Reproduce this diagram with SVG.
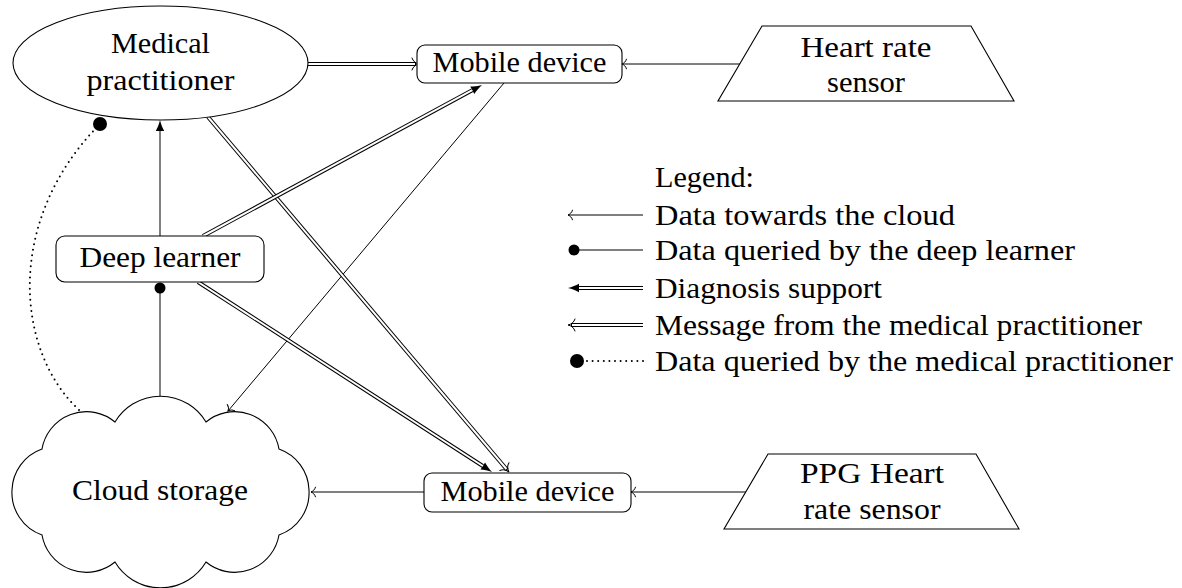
<svg xmlns="http://www.w3.org/2000/svg" width="1182" height="588" viewBox="0 0 1182 588">
  <style>
    .lbl { font-family: "Liberation Serif", "Times New Roman", serif; font-size: 30px; fill: #000; }
    .mid { text-anchor: middle; }
    .shape { fill: #fff; stroke: #000; stroke-width: 1.1; }
    .thin { fill: none; stroke: #000; stroke-width: 1; }
    .dbl-out { fill: none; stroke: #000; stroke-width: 4; stroke-linecap: butt; }
    .dbl-in { fill: none; stroke: #fff; stroke-width: 2; stroke-linecap: butt; }
    .dots { fill: none; stroke: #000; stroke-width: 2; stroke-linecap: round; stroke-dasharray: 0 5.6; }
    .dot { fill: #000; }
  </style>
  <defs>
    <!-- thin open tip -->
    <marker id="to" markerUnits="userSpaceOnUse" viewBox="-8 -8 12 16" markerWidth="12" markerHeight="16" refX="0" refY="0" orient="auto" overflow="visible">
      <path d="M-4.5,-4.8 C-3.8,-2.2 -1.6,-0.6 0,0 C-1.6,0.6 -3.8,2.2 -4.5,4.8" fill="none" stroke="#000" stroke-width="1" stroke-linecap="round"/>
    </marker>
    <!-- filled tip, base at the path end -->
    <marker id="latex" markerUnits="userSpaceOnUse" viewBox="-2 -6 16 12" markerWidth="16" markerHeight="12" refX="0" refY="0" orient="auto" overflow="visible">
      <path d="M11,0 C7,-0.9 3,-2.6 0,-4.2 L0,4.2 C3,2.6 7,0.9 11,0 Z" fill="#000"/>
    </marker>
    <!-- open tip for double lines -->
    <marker id="implies" markerUnits="userSpaceOnUse" viewBox="-8 -8 14 16" markerWidth="14" markerHeight="16" refX="0" refY="0" orient="auto" overflow="visible">
      <path d="M-4,-6 C-3,-2.8 -0.5,-0.8 3,0 C-0.5,0.8 -3,2.8 -4,6" fill="none" stroke="#000" stroke-width="1" stroke-linecap="round"/>
    </marker>
  </defs>

  <!-- connectors -->
  <g id="connectors">
    <!-- practitioner to upper mobile device -->
    <path class="dbl-out" d="M308,64 L416,64" marker-end="url(#implies)"/>
    <path class="dbl-in" d="M308,64 L415,64"/>
    <!-- sensors to mobile devices -->
    <path class="thin" d="M740,64 L622,64" marker-end="url(#to)"/>
    <path class="thin" d="M746,492 L631,492" marker-end="url(#to)"/>
    <!-- mobile devices to cloud -->
    <path class="thin" d="M424,492 L311,492" marker-end="url(#to)"/>
    <path class="thin" d="M504,83 L228,411" marker-end="url(#to)"/>
    <!-- practitioner to lower mobile device -->
    <path class="dbl-out" d="M208,117 L507,469.7" marker-end="url(#implies)"/>
    <path class="dbl-in" d="M208,117 L506.4,469"/>
    <!-- deep learner to upper mobile device -->
    <path class="dbl-out" d="M203,236 L472.3,90.2" marker-end="url(#latex)"/>
    <path class="dbl-in" d="M203,236 L472.3,90.2"/>
    <!-- deep learner to lower mobile device -->
    <path class="dbl-out" d="M198,282 L482.8,466" marker-end="url(#latex)"/>
    <path class="dbl-in" d="M198,282 L482.8,466"/>
    <!-- deep learner to practitioner -->
    <path class="thin" d="M160,236 L160,131" marker-end="url(#latex)"/>
    <!-- cloud queried by deep learner -->
    <path class="thin" d="M160,396 L160,288"/>
    <circle class="dot" cx="160" cy="288" r="5.5"/>
    <!-- cloud queried by practitioner -->
    <path class="dots" d="M79,410 C15,350 5,220 100,124"/>
    <circle class="dot" cx="100" cy="124" r="7"/>
  </g>

  <g id="medical-practitioner">
    <ellipse class="shape" cx="160.5" cy="63" rx="147.5" ry="57"/>
    <text class="lbl mid" x="160.5" y="53" textLength="99" lengthAdjust="spacingAndGlyphs">Medical</text>
    <text class="lbl mid" x="160.5" y="90" textLength="148" lengthAdjust="spacingAndGlyphs">practitioner</text>
  </g>

  <g id="mobile-device-top">
    <rect class="shape" x="417" y="45" width="205" height="38" rx="8"/>
    <text class="lbl mid" x="519.5" y="72" textLength="174" lengthAdjust="spacingAndGlyphs">Mobile device</text>
  </g>

  <g id="heart-rate-sensor">
    <polygon class="shape" points="762,26 971,26 1014,101 718,101"/>
    <text class="lbl mid" x="866" y="57" textLength="131" lengthAdjust="spacingAndGlyphs">Heart rate</text>
    <text class="lbl mid" x="866" y="92" textLength="78" lengthAdjust="spacingAndGlyphs">sensor</text>
  </g>

  <g id="deep-learner">
    <rect class="shape" x="56" y="236" width="208" height="46" rx="9"/>
    <text class="lbl mid" x="160" y="267" textLength="161" lengthAdjust="spacingAndGlyphs">Deep learner</text>
  </g>

  <g id="cloud-storage">
    <path class="shape" d="M115,422 A53,53 0 0 1 206,422 A45,45 0 0 1 279,449 A45,45 0 0 1 309,490 A45,45 0 0 1 279,535 A45,45 0 0 1 206,562 A53,53 0 0 1 115,562 A45,45 0 0 1 42,535 A45,45 0 0 1 12,490 A45,45 0 0 1 42,449 A45,45 0 0 1 115,422 Z"/>
    <text class="lbl mid" x="160" y="500" textLength="176" lengthAdjust="spacingAndGlyphs">Cloud storage</text>
  </g>

  <g id="mobile-device-bottom">
    <rect class="shape" x="424" y="473" width="207" height="39" rx="8"/>
    <text class="lbl mid" x="527.5" y="501" textLength="174" lengthAdjust="spacingAndGlyphs">Mobile device</text>
  </g>

  <g id="ppg-heart-rate-sensor">
    <polygon class="shape" points="768,454 976,454 1019,529 724,529"/>
    <text class="lbl mid" x="872" y="483" textLength="144" lengthAdjust="spacingAndGlyphs">PPG Heart</text>
    <text class="lbl mid" x="872" y="519" textLength="137" lengthAdjust="spacingAndGlyphs">rate sensor</text>
  </g>

  <g id="legend">
    <text class="lbl" x="655" y="187" textLength="99" lengthAdjust="spacingAndGlyphs">Legend:</text>

    <path class="thin" d="M643,215 L568,215" marker-end="url(#to)"/>
    <text class="lbl" x="655" y="225" textLength="300" lengthAdjust="spacingAndGlyphs">Data towards the cloud</text>

    <path class="thin" d="M643,250 L574,250"/>
    <circle class="dot" cx="574" cy="250" r="5.5"/>
    <text class="lbl" x="655" y="260" textLength="420" lengthAdjust="spacingAndGlyphs">Data queried by the deep learner</text>

    <path class="dbl-out" d="M643,288 L579,288" marker-end="url(#latex)"/>
    <path class="dbl-in" d="M643,288 L579,288"/>
    <text class="lbl" x="655" y="298" textLength="227" lengthAdjust="spacingAndGlyphs">Diagnosis support</text>

    <path class="dbl-out" d="M643,325 L571,325" marker-end="url(#implies)"/>
    <path class="dbl-in" d="M643,325 L572,325"/>
    <text class="lbl" x="655" y="335" textLength="487" lengthAdjust="spacingAndGlyphs">Message from the medical practitioner</text>

    <path class="dots" d="M643,361 L586,361"/>
    <circle class="dot" cx="577" cy="361" r="7"/>
    <text class="lbl" x="655" y="371" textLength="518" lengthAdjust="spacingAndGlyphs">Data queried by the medical practitioner</text>
  </g>
</svg>
